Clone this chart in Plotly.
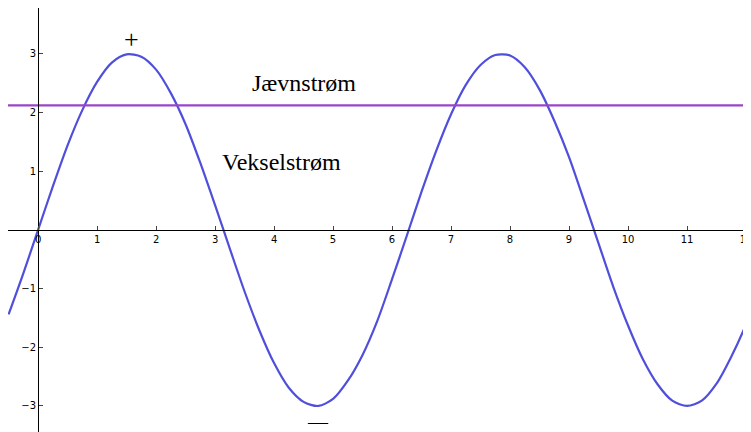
import plotly.graph_objects as go

# sine curve (amplitude about 3), every quarter unit
xs = [i * 0.25 - 0.5 for i in range(53)]
ys = [-1.44, -0.74, 0, 0.74, 1.44, 2.04, 2.52, 2.85, 2.99, 2.95, 2.73, 2.33, 1.80,
      1.14, 0.42, -0.32, -1.05, -1.71, -2.27, -2.69, -2.93, -3.00, -2.88, -2.57,
      -2.13, -1.55, -0.84, -0.10, 0.65, 1.35, 1.97, 2.47, 2.81, 2.98, 2.97, 2.77,
      2.39, 1.86, 1.24, 0.51, -0.23, -0.97, -1.63, -2.20, -2.63, -2.91, -3.00,
      -2.91, -2.62, -2.16, -1.61, -0.95, -0.20]
dc_level = 2.12
x_ticks = list(range(0, 13))
y_ticks = [-3, -2, -1, 1, 2, 3]

fig = go.Figure()
fig.add_trace(go.Scatter(x=xs, y=ys, mode="lines",
                         line=dict(color="#4f4fdc", width=2.2, shape="spline", smoothing=0.8)))
fig.add_trace(go.Scatter(x=[-1, 13], y=[dc_level, dc_level], mode="lines",
                         line=dict(color="#9a45c8", width=2.2)))

for txt, x, y, sz in [("Jævnstrøm", 4.5, 2.5, 24), ("Vekselstrøm", 4.12, 1.15, 24),
                      ("+", 1.58, 3.25, 26), ("—", 4.75, -3.27, 20)]:
    fig.add_annotation(x=x, y=y, text=txt, showarrow=False,
                       font=dict(family="Liberation Serif", size=sz, color="black"))

tf = dict(size=10, family="DejaVu Sans", color="black")
fig.update_layout(
    width=751, height=432, margin=dict(l=0, r=0, t=0, b=0, autoexpand=False),
    plot_bgcolor="white", paper_bgcolor="white", showlegend=False,
    xaxis=dict(range=[-0.51, 12.22], tickvals=x_ticks, showgrid=False, zeroline=False,
               showline=True, linecolor="black", linewidth=1, anchor="free", position=0.486,
               ticks="inside", ticklen=4, tickfont=tf, automargin=False),
    yaxis=dict(range=[-3.58, 3.78], tickvals=y_ticks, showgrid=False, zeroline=False,
               showline=True, linecolor="black", linewidth=1, anchor="free", position=0.04,
               ticks="inside", ticklen=4, tickfont=tf, automargin=False),
)
fig.write_html("out.html")
